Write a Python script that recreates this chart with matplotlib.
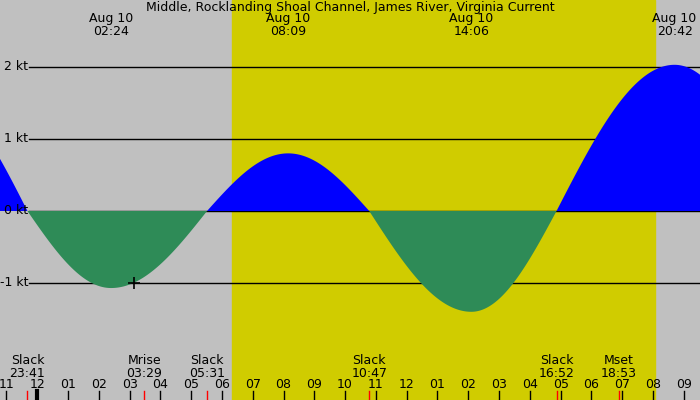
import numpy as np
import matplotlib.pyplot as plt

# tide events: hours from midnight Aug 10, current speed in knots
event_hours = [-3.3, -0.317, 2.4, 5.517, 8.15, 10.783, 14.1, 16.867, 20.7, 24.2]
event_kt = [1.6, 0.0, -1.07, 0.0, 0.80, 0.0, -1.40, 0.0, 2.03, 0.0]

# labels at top (extremes)
top_hours = [2.4, 8.15, 14.1, 20.7]
top_labels = ['Aug 10\n02:24', 'Aug 10\n08:09', 'Aug 10\n14:06', 'Aug 10\n20:42']

# labels at bottom (slack / moon)
bottom_hours = [-0.317, 3.483, 5.517, 10.783, 16.867, 18.883]
bottom_labels = ['Slack\n23:41', 'Mrise\n03:29', 'Slack\n05:31', 'Slack\n10:47',
                 'Slack\n16:52', 'Mset\n18:53']

sunrise, sunset = 6.33, 20.065
hour_ticks = list(range(-1, 22))
hour_labels = ['%02d' % (((h - 1) % 12) + 1) for h in hour_ticks]
kt_levels = [2, 1, 0, -1]
marker_hour, marker_kt = 3.13, -1.0

title = 'Middle, Rocklanding Shoal Channel, James River, Virginia Current'

# quarter-sine shape between slack and extreme
t = np.linspace(-1.3, 21.6, 2000)
v = np.zeros_like(t)
for i in range(len(event_hours) - 1):
    t0, t1 = event_hours[i], event_hours[i + 1]
    v0, v1 = event_kt[i], event_kt[i + 1]
    m = (t >= t0) & (t <= t1)
    f = (t[m] - t0) / (t1 - t0)
    if v0 == 0:
        v[m] = v1 * np.sin(np.pi / 2 * f)
    else:
        v[m] = v0 * np.cos(np.pi / 2 * f)

plt.rcParams['font.family'] = 'DejaVu Sans'
fig = plt.figure(figsize=(7, 4), dpi=100, facecolor='#c0c0c0')
ax = fig.add_axes([0, 0, 1, 1])
ax.set_xlim(-1.208, 21.526)
ax.set_ylim(-2.625, 2.93)
ax.axis('off')

ax.axvspan(sunrise, sunset, color='#d0cc00', zorder=0)

for k in kt_levels:
    ax.axhline(k, xmin=29 / 700, color='black', lw=1, zorder=1)
    ax.text(28 / 700, k, '%d kt' % k, transform=ax.get_yaxis_transform(),
            ha='right', va='center', fontsize=9)

ax.fill_between(t, v, 0, where=v >= 0, color='#0000ff', lw=0, zorder=2, interpolate=True)
ax.fill_between(t, v, 0, where=v <= 0, color='#2e8b57', lw=0, zorder=2, interpolate=True)
ax.plot(marker_hour, marker_kt, marker='+', color='black', ms=9, mew=1.2, zorder=3)

tr = ax.get_xaxis_transform()
ax.text(0.5, 1 - 7 / 400, title, transform=ax.transAxes, ha='center', va='center', fontsize=9)
for h, lab in zip(top_hours, top_labels):
    ax.text(h, 1 - 25 / 400, lab, transform=tr, ha='center', va='center',
            fontsize=9, linespacing=0.95)
for h, lab in zip(bottom_hours, bottom_labels):
    ax.text(h, 1 - 367 / 400, lab, transform=tr, ha='center', va='center',
            fontsize=9, linespacing=0.95)
    ax.plot([h, h], [0, 9 / 400], transform=tr, color='red', lw=1, zorder=3)

for h, lab in zip(hour_ticks, hour_labels):
    ax.text(h, 1 - 385 / 400, lab, transform=tr, ha='center', va='center', fontsize=9)
    ax.plot([h, h], [0, 9 / 400], transform=tr, color='black',
            lw=3 if h == 0 else 1, zorder=3)

fig.savefig('out.png', dpi=100, facecolor=fig.get_facecolor())
